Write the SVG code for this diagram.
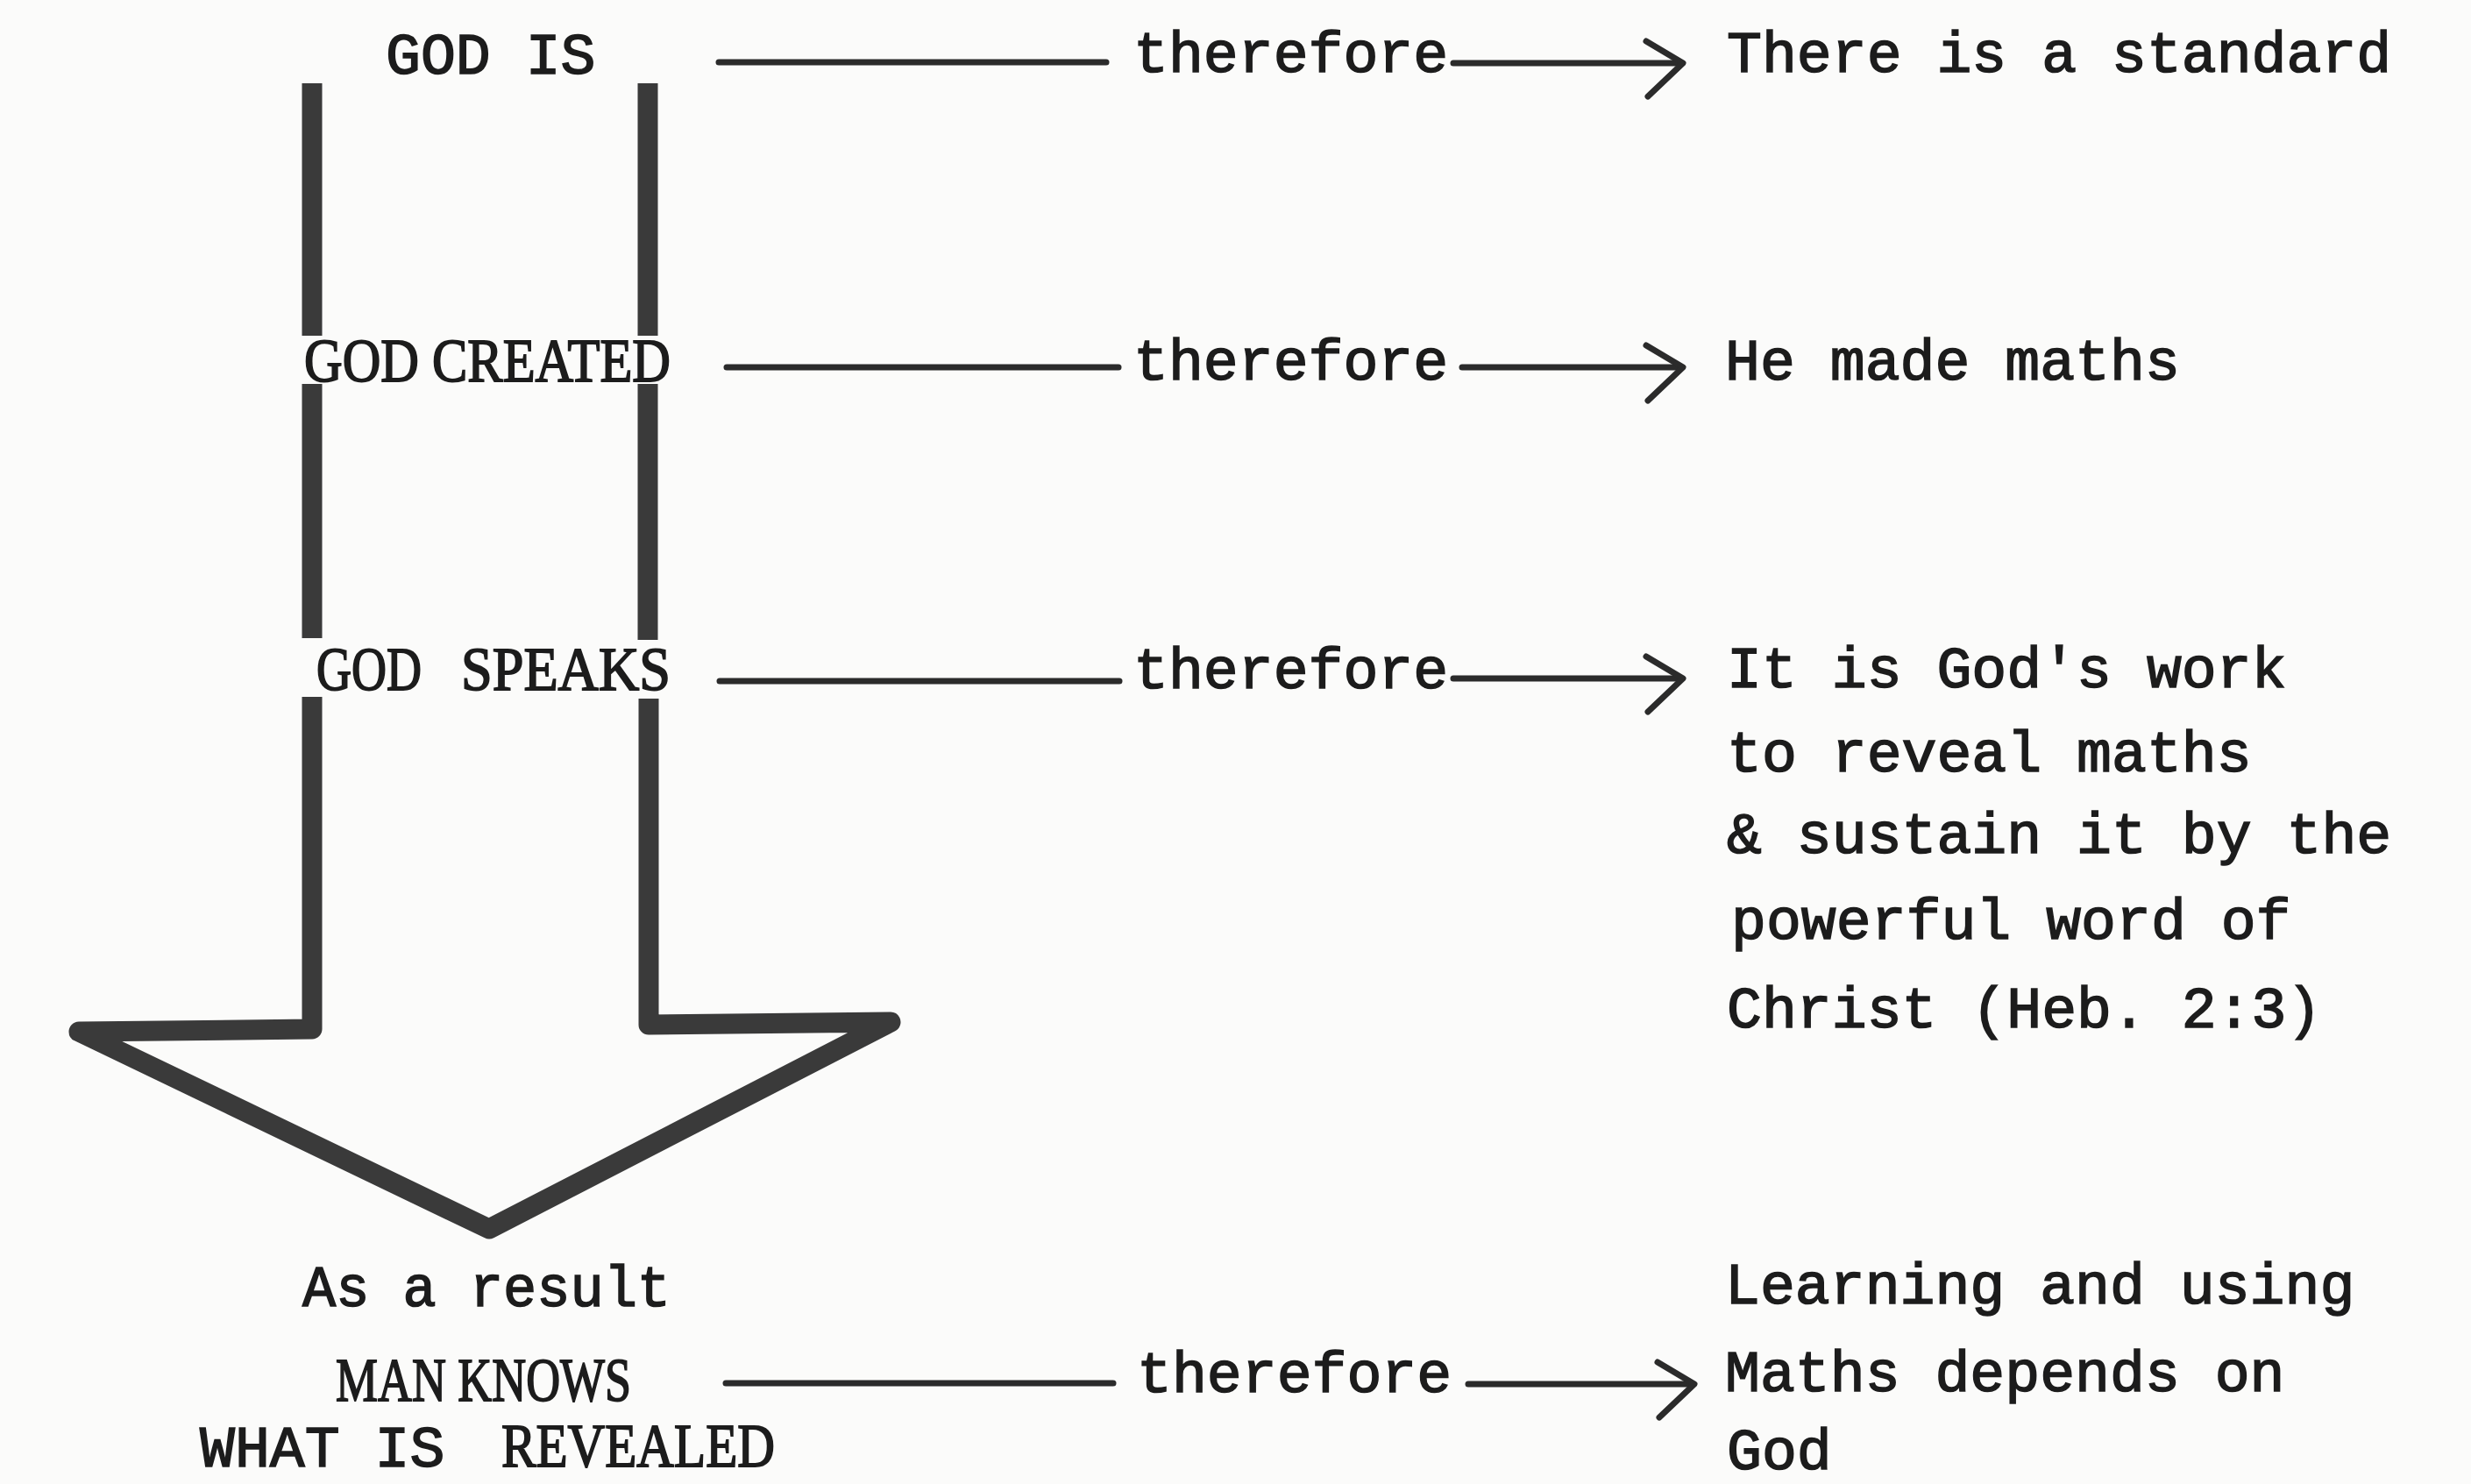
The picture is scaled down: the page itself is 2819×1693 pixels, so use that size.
<svg xmlns="http://www.w3.org/2000/svg" width="2819" height="1693" viewBox="0 0 2819 1693">
<style>
.tw{font-family:"Liberation Mono","DejaVu Sans Mono",monospace;font-size:66.5px;fill:#1c1c1c;stroke:#1c1c1c;stroke-width:1.6}
.cs{font-family:"Liberation Serif","DejaVu Serif",serif;font-size:69px;fill:#1c1c1c;stroke:#1c1c1c;stroke-width:1.8}
.ln{stroke:#2b2b2b;stroke-width:7;stroke-linecap:round;fill:none}
.bar{stroke:#3a3a3a;stroke-width:23;fill:none;stroke-linejoin:round}
</style>
<defs>
<path id="chev" d="M-42,-25 L0,0 L-40,38" fill="none" stroke="#2b2b2b" stroke-width="7" stroke-linecap="round" stroke-linejoin="round"/>
</defs>
<rect width="2819" height="1693" fill="#fbfbfa"/>

<g id="connectors">
  <line class="bar" x1="356" y1="95" x2="356" y2="383"/>
  <line class="bar" x1="739" y1="95" x2="739" y2="383"/>
  <line class="bar" x1="356" y1="438" x2="356" y2="728"/>
  <line class="bar" x1="739" y1="438" x2="739" y2="730"/>
  <path class="bar" d="M356,795 L356,1174 L90,1177 L558,1402 L1016,1166 L740,1169 L740,797"/>
  <line class="ln" x1="820" y1="71" x2="1262" y2="71"/>
  <line class="ln" x1="1658" y1="72" x2="1918" y2="72"/>
  <use href="#chev" x="1920" y="72"/>
  <line class="ln" x1="829" y1="419" x2="1276" y2="419"/>
  <line class="ln" x1="1668" y1="419" x2="1918" y2="419"/>
  <use href="#chev" x="1920" y="419"/>
  <line class="ln" x1="821" y1="777" x2="1277" y2="777"/>
  <line class="ln" x1="1658" y1="774" x2="1918" y2="774"/>
  <use href="#chev" x="1920" y="774"/>
  <line class="ln" x1="828" y1="1578" x2="1270" y2="1578"/>
  <line class="ln" x1="1675" y1="1579" x2="1931" y2="1579"/>
  <use href="#chev" x="1933" y="1579"/>
  <text class="tw" x="1293" y="82">therefore</text>
  <text class="tw" x="1293" y="433">therefore</text>
  <text class="tw" x="1293" y="785">therefore</text>
  <text class="tw" x="1297" y="1588">therefore</text>
</g>

<g id="god-is"><text class="tw" x="440" y="84">GOD IS</text></g>
<g id="god-created"><text class="cs" x="347" y="435" textLength="418" lengthAdjust="spacingAndGlyphs">GOD CREATED</text></g>
<g id="god-speaks">
  <text class="cs" x="361" y="787" textLength="120" lengthAdjust="spacingAndGlyphs">GOD</text>
  <text class="cs" x="526" y="787" textLength="239" lengthAdjust="spacingAndGlyphs">SPEAKS</text>
</g>
<g id="man-knows">
  <text class="tw" x="345" y="1490" textLength="420" lengthAdjust="spacingAndGlyphs">As a result</text>
  <text class="cs" x="383" y="1598" textLength="337" lengthAdjust="spacingAndGlyphs">MAN KNOWS</text>
  <text class="tw" x="228" y="1673">WHAT IS</text>
  <text class="cs" x="572" y="1673" textLength="312" lengthAdjust="spacingAndGlyphs">REVEALED</text>
</g>

<g id="standard"><text class="tw" x="1970" y="82">There is a standard</text></g>
<g id="made-maths"><text class="tw" x="1968" y="433">He made maths</text></g>
<g id="gods-work">
  <text class="tw" x="1970" y="784">It is God's work</text>
  <text class="tw" x="1970" y="880">to reveal maths</text>
  <text class="tw" x="1970" y="973">&amp; sustain it by the</text>
  <text class="tw" x="1975" y="1071">powerful word of</text>
  <text class="tw" x="1970" y="1172">Christ (Heb. 2:3)</text>
</g>
<g id="depends">
  <text class="tw" x="1968" y="1487">Learning and using</text>
  <text class="tw" x="1968" y="1587">Maths depends on</text>
  <text class="tw" x="1970" y="1676">God</text>
</g>
</svg>
